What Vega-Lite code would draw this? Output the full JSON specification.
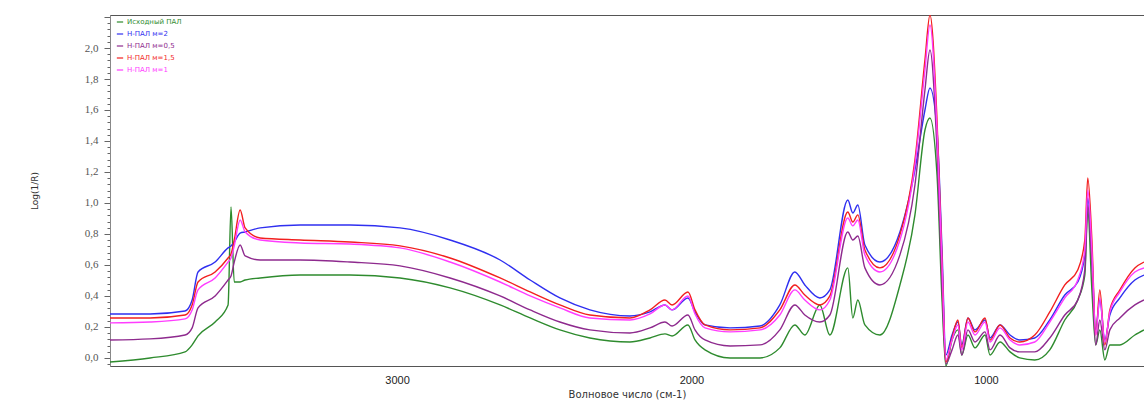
{
  "$schema": "https://vega.github.io/schema/vega-lite/v6.json",
  "autosize": {"type": "none"},
  "padding": {"left": 110, "top": 15, "right": 0, "bottom": 40},
  "width": 1034,
  "height": 351,
  "background": "white",
  "config": {"view": {"stroke": "#555", "strokeWidth": 1}},
  "data": {"values": [
    {"w": 3975, "g": -0.026, "b": 0.284, "p": 0.116, "r": 0.258, "m": 0.226},
    {"w": 3839, "g": 0.0, "b": 0.284, "p": 0.123, "r": 0.258, "m": 0.232},
    {"w": 3720, "g": 0.039, "b": 0.303, "p": 0.148, "r": 0.277, "m": 0.252},
    {"w": 3696, "g": 0.084, "b": 0.374, "p": 0.194, "r": 0.342, "m": 0.310},
    {"w": 3676, "g": 0.142, "b": 0.555, "p": 0.323, "r": 0.490, "m": 0.439},
    {"w": 3618, "g": 0.232, "b": 0.619, "p": 0.400, "r": 0.555, "m": 0.516},
    {"w": 3574, "g": 0.342, "b": 0.710, "p": 0.503, "r": 0.645, "m": 0.619},
    {"w": 3564, "g": 0.974, "b": 0.723, "p": 0.529, "r": 0.671, "m": 0.645},
    {"w": 3553, "g": 0.490, "b": 0.748, "p": 0.619, "r": 0.761, "m": 0.723},
    {"w": 3533, "g": 0.490, "b": 0.806, "p": 0.729, "r": 0.955, "m": 0.890},
    {"w": 3516, "g": 0.503, "b": 0.813, "p": 0.658, "r": 0.839, "m": 0.813},
    {"w": 3465, "g": 0.516, "b": 0.839, "p": 0.632, "r": 0.774, "m": 0.761},
    {"w": 3329, "g": 0.535, "b": 0.858, "p": 0.632, "r": 0.761, "m": 0.742},
    {"w": 3160, "g": 0.535, "b": 0.858, "p": 0.619, "r": 0.748, "m": 0.735},
    {"w": 2990, "g": 0.516, "b": 0.839, "p": 0.594, "r": 0.723, "m": 0.710},
    {"w": 2820, "g": 0.452, "b": 0.761, "p": 0.516, "r": 0.645, "m": 0.619},
    {"w": 2650, "g": 0.342, "b": 0.632, "p": 0.400, "r": 0.516, "m": 0.490},
    {"w": 2548, "g": 0.258, "b": 0.503, "p": 0.310, "r": 0.426, "m": 0.400},
    {"w": 2447, "g": 0.181, "b": 0.387, "p": 0.232, "r": 0.342, "m": 0.323},
    {"w": 2345, "g": 0.129, "b": 0.310, "p": 0.181, "r": 0.277, "m": 0.258},
    {"w": 2209, "g": 0.103, "b": 0.271, "p": 0.161, "r": 0.258, "m": 0.245},
    {"w": 2141, "g": 0.129, "b": 0.297, "p": 0.194, "r": 0.310, "m": 0.284},
    {"w": 2090, "g": 0.155, "b": 0.342, "p": 0.232, "r": 0.374, "m": 0.342},
    {"w": 2066, "g": 0.142, "b": 0.310, "p": 0.206, "r": 0.342, "m": 0.310},
    {"w": 2012, "g": 0.213, "b": 0.387, "p": 0.277, "r": 0.426, "m": 0.400},
    {"w": 1988, "g": 0.116, "b": 0.297, "p": 0.181, "r": 0.310, "m": 0.284},
    {"w": 1954, "g": 0.052, "b": 0.213, "p": 0.116, "r": 0.213, "m": 0.194},
    {"w": 1869, "g": 0.0, "b": 0.194, "p": 0.077, "r": 0.181, "m": 0.168},
    {"w": 1767, "g": 0.0, "b": 0.206, "p": 0.084, "r": 0.194, "m": 0.181},
    {"w": 1700, "g": 0.065, "b": 0.342, "p": 0.181, "r": 0.310, "m": 0.277},
    {"w": 1649, "g": 0.213, "b": 0.555, "p": 0.342, "r": 0.471, "m": 0.439},
    {"w": 1615, "g": 0.148, "b": 0.471, "p": 0.277, "r": 0.406, "m": 0.374},
    {"w": 1564, "g": 0.342, "b": 0.387, "p": 0.232, "r": 0.342, "m": 0.310},
    {"w": 1530, "g": 0.148, "b": 0.439, "p": 0.277, "r": 0.400, "m": 0.374},
    {"w": 1469, "g": 0.581, "b": 1.019, "p": 0.813, "r": 0.942, "m": 0.903},
    {"w": 1452, "g": 0.258, "b": 0.935, "p": 0.761, "r": 0.877, "m": 0.852},
    {"w": 1435, "g": 0.374, "b": 0.987, "p": 0.787, "r": 0.923, "m": 0.890},
    {"w": 1411, "g": 0.213, "b": 0.729, "p": 0.581, "r": 0.697, "m": 0.665},
    {"w": 1360, "g": 0.148, "b": 0.619, "p": 0.471, "r": 0.581, "m": 0.555},
    {"w": 1292, "g": 0.471, "b": 0.813, "p": 0.665, "r": 0.794, "m": 0.761},
    {"w": 1241, "g": 0.923, "b": 1.213, "p": 1.116, "r": 1.277, "m": 1.245},
    {"w": 1207, "g": 1.471, "b": 1.600, "p": 1.729, "r": 1.923, "m": 1.858},
    {"w": 1190, "g": 1.548, "b": 1.742, "p": 1.987, "r": 2.213, "m": 2.148},
    {"w": 1166, "g": 1.181, "b": 1.471, "p": 1.342, "r": 1.535, "m": 1.471},
    {"w": 1149, "g": 0.374, "b": 0.697, "p": 0.471, "r": 0.632, "m": 0.600},
    {"w": 1136, "g": -0.052, "b": 0.019, "p": -0.039, "r": -0.026, "m": -0.013},
    {"w": 1115, "g": 0.116, "b": 0.148, "p": 0.052, "r": 0.129, "m": 0.116},
    {"w": 1095, "g": 0.181, "b": 0.232, "p": 0.148, "r": 0.245, "m": 0.213},
    {"w": 1082, "g": 0.019, "b": 0.084, "p": 0.019, "r": 0.065, "m": 0.052},
    {"w": 1061, "g": 0.148, "b": 0.258, "p": 0.181, "r": 0.258, "m": 0.232},
    {"w": 1037, "g": 0.065, "b": 0.181, "p": 0.103, "r": 0.168, "m": 0.148},
    {"w": 1003, "g": 0.148, "b": 0.245, "p": 0.168, "r": 0.258, "m": 0.232},
    {"w": 986, "g": 0.019, "b": 0.129, "p": 0.052, "r": 0.116, "m": 0.103},
    {"w": 952, "g": 0.103, "b": 0.213, "p": 0.148, "r": 0.213, "m": 0.194},
    {"w": 918, "g": 0.039, "b": 0.148, "p": 0.065, "r": 0.129, "m": 0.116},
    {"w": 885, "g": 0.0, "b": 0.116, "p": 0.039, "r": 0.103, "m": 0.084},
    {"w": 834, "g": -0.013, "b": 0.129, "p": 0.039, "r": 0.148, "m": 0.103},
    {"w": 783, "g": 0.052, "b": 0.245, "p": 0.129, "r": 0.297, "m": 0.232},
    {"w": 732, "g": 0.245, "b": 0.406, "p": 0.277, "r": 0.471, "m": 0.387},
    {"w": 688, "g": 0.374, "b": 0.490, "p": 0.374, "r": 0.568, "m": 0.503},
    {"w": 664, "g": 0.535, "b": 0.665, "p": 0.568, "r": 0.761, "m": 0.697},
    {"w": 654, "g": 0.955, "b": 1.032, "p": 0.987, "r": 1.161, "m": 1.084},
    {"w": 640, "g": 0.439, "b": 0.665, "p": 0.600, "r": 0.761, "m": 0.697},
    {"w": 627, "g": 0.084, "b": 0.181, "p": 0.084, "r": 0.148, "m": 0.148},
    {"w": 613, "g": 0.181, "b": 0.374, "p": 0.245, "r": 0.439, "m": 0.387},
    {"w": 596, "g": -0.013, "b": 0.116, "p": 0.052, "r": 0.084, "m": 0.103},
    {"w": 579, "g": 0.084, "b": 0.277, "p": 0.181, "r": 0.310, "m": 0.297},
    {"w": 545, "g": 0.084, "b": 0.387, "p": 0.258, "r": 0.439, "m": 0.426},
    {"w": 494, "g": 0.148, "b": 0.503, "p": 0.342, "r": 0.581, "m": 0.555},
    {"w": 463, "g": 0.181, "b": 0.535, "p": 0.374, "r": 0.619, "m": 0.581}
  ]},
  "transform": [{"fold": ["g", "b", "p", "r", "m"], "as": ["s", "v"]}],
  "mark": {"type": "line", "strokeWidth": 1.4, "clip": true, "interpolate": "monotone"},
  "encoding": {
    "x": {
      "field": "w", "type": "quantitative",
      "scale": {"domain": [463, 3975], "reverse": true, "nice": false, "zero": false},
      "axis": {
        "values": [3000, 2000, 1000],
        "format": "d",
        "title": "Волновое число (см-1)",
        "domain": false, "ticks": false, "grid": false,
        "labelFont": "Liberation Sans", "labelFontSize": 11, "labelColor": "#222",
        "labelPadding": 8,
        "titleFont": "DejaVu Sans", "titleFontSize": 10, "titleFontWeight": "normal", "titleColor": "#333",
        "titlePadding": 4
      }
    },
    "y": {
      "field": "v", "type": "quantitative",
      "scale": {"domain": [-0.052, 2.213], "nice": false, "zero": false},
      "axis": {
        "values": [-0.04, 0, 0.04, 0.08, 0.12, 0.16, 0.2, 0.24, 0.28, 0.32, 0.36, 0.4, 0.44, 0.48, 0.52, 0.56, 0.6, 0.64, 0.68, 0.72, 0.76, 0.8, 0.84, 0.88, 0.92, 0.96, 1.0, 1.04, 1.08, 1.12, 1.16, 1.2, 1.24, 1.28, 1.32, 1.36, 1.4, 1.44, 1.48, 1.52, 1.56, 1.6, 1.64, 1.68, 1.72, 1.76, 1.8, 1.84, 1.88, 1.92, 1.96, 2.0, 2.04, 2.08, 2.12, 2.16, 2.2],
        "labelExpr": "abs(datum.value*5 - round(datum.value*5)) < 0.01 && datum.value <= 2.001 && datum.value >= -0.001 ? replace(format(datum.value, '.1f'), '.', ',') : ''",
        "tickSize": {"condition": {"test": "abs(datum.value*5 - round(datum.value*5)) < 0.01", "value": 6}, "value": 3},
        "tickColor": "#666", "domainColor": "#888", "grid": false,
        "title": "Log(1/R)",
        "labelFont": "Liberation Serif", "labelFontSize": 11, "labelColor": "#555",
        "labelPadding": 6,
        "titleFont": "DejaVu Sans", "titleFontSize": 9, "titleFontWeight": "normal", "titleColor": "#333",
        "titlePadding": 45
      }
    },
    "color": {
      "field": "s", "type": "nominal",
      "scale": {"domain": ["g", "b", "p", "r", "m"], "range": ["#2e8b2e", "#2f2ff0", "#8e2a8e", "#f21f1f", "#ff3cff"]},
      "legend": {
        "title": null,
        "orient": "none", "legendX": 6, "legendY": 3,
        "labelExpr": "{'g': 'Исходный ПАЛ', 'b': 'Н-ПАЛ м=2', 'p': 'Н-ПАЛ м=0,5', 'r': 'Н-ПАЛ м=1,5', 'm': 'Н-ПАЛ м=1'}[datum.value]",
        "labelFont": "DejaVu Sans", "labelFontSize": 7,
        "symbolType": "stroke", "symbolSize": 40, "symbolStrokeWidth": 1.2,
        "rowPadding": 5, "labelOffset": 3,
        "encode": {"labels": {"update": {"fill": {"scale": "color", "field": "value"}}}}
      }
    }
  }
}
